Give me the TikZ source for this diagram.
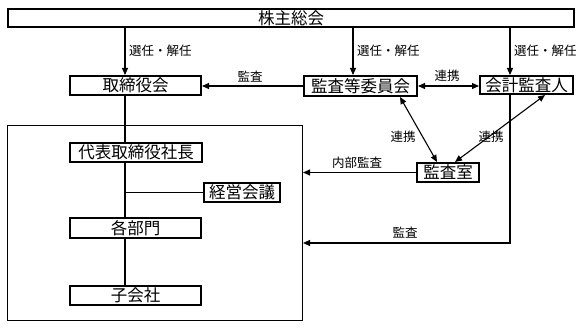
\documentclass[tikz,border=0pt]{standalone}
\usepackage{fontspec}
\newfontfamily\jp{Noto Sans CJK JP}
\usetikzlibrary{arrows.meta,calc}
\tikzset{
  box/.style={draw=black,line width=2pt,fill=white,inner sep=0pt,font=\jp\fontsize{16.5}{17}\selectfont,anchor=center},
  lbl/.style={font=\jp\fontsize{12.5}{13}\selectfont,inner sep=0pt},
  conn/.style={line width=1.1pt},
  arr/.style={conn,-{Triangle[length=7pt,width=6pt]}},
  darr/.style={conn,{Triangle[length=7pt,width=6pt]}-{Triangle[length=7pt,width=6pt]}}
}
\begin{document}
\begin{tikzpicture}[x=1pt,y=-1pt]
\useasboundingbox (0,0) rectangle (588,328);
% enclosing company box
\node[draw=black,line width=1.1pt,minimum width=295pt,minimum height=195pt,inner sep=0pt] (corp) at (155,223) {};
% nodes
\node[box,minimum width=566pt,minimum height=18pt] (top) at (291,18) {株主総会};
\node[box,minimum width=131pt,minimum height=19pt] (tori) at (135.5,85.5) {取締役会};
\node[box,minimum width=113pt,minimum height=20pt] (kansa) at (360.5,86) {監査等委員会};
\node[box,minimum width=93pt,minimum height=18pt] (kaikei) at (526.5,85) {会計監査人};
\node[box,minimum width=132pt,minimum height=19pt] (daihyo) at (136,152.5) {代表取締役社長};
\node[box,minimum width=76pt,minimum height=19pt] (keiei) at (242,192.5) {経営会議};
\node[box,minimum width=131pt,minimum height=20pt] (kakubu) at (135.5,228) {各部門};
\node[box,minimum width=131pt,minimum height=19pt] (kogaisha) at (135.5,295.5) {子会社};
\node[box,minimum width=62pt,minimum height=19pt] (shitsu) at (448,172.5) {監査室};
% helper coordinates
\coordinate (lx) at (125,0);
\coordinate (mx) at (353,0);
\coordinate (rx) at (510,0);
\coordinate (ay) at (0,243);
% election arrows
\draw[arr] (top.south -| lx) -- (tori.north -| lx);
\draw[arr] (top.south -| mx) -- (kansa.north -| mx);
\draw[arr] (top.south -| rx) -- (kaikei.north -| rx);
\node[lbl,anchor=west] (l1) at (129,51) {選任・解任};
\node[lbl,anchor=west] (l2) at (357,51) {選任・解任};
\node[lbl,anchor=west] (l3) at (514,51) {選任・解任};
% audit committee -> board
\draw[arr] (kansa.west) -- (kansa.west -| tori.east);
\node[lbl] (l4) at (250,77) {監査};
% cooperation committee <-> auditor
\draw[darr] (kansa.east) -- (kansa.east -| kaikei.west);
\node[lbl] (l5) at (447,76) {連携};
% diagonals
\draw[darr] ([xshift=-18pt]kansa.south east) -- ([xshift=-11pt]shitsu.north);
\draw[darr] ([xshift=-29pt]kaikei.south east) -- ([xshift=7pt]shitsu.north);
\node[lbl] (l6) at (403,137) {連携};
\node[lbl] (l7) at (491,137) {連携};
% internal audit
\draw[arr] (shitsu.west) -- (shitsu.west -| corp.east);
\node[lbl] (l8) at (357,163) {内部監査};
% accounting auditor audit
\draw[arr] (kaikei.south -| rx) -- (rx |- ay) -- (ay -| corp.east);
\node[lbl] (l9) at (405,233) {監査};
% chain
\draw[conn] (tori.south -| lx) -- (daihyo.north -| lx);
\draw[conn] (daihyo.south -| lx) -- (kakubu.north -| lx);
\draw[conn] (kakubu.south -| lx) -- (kogaisha.north -| lx);
\draw[conn] (lx |- keiei.west) -- (keiei.west);
\end{tikzpicture}
\end{document}
